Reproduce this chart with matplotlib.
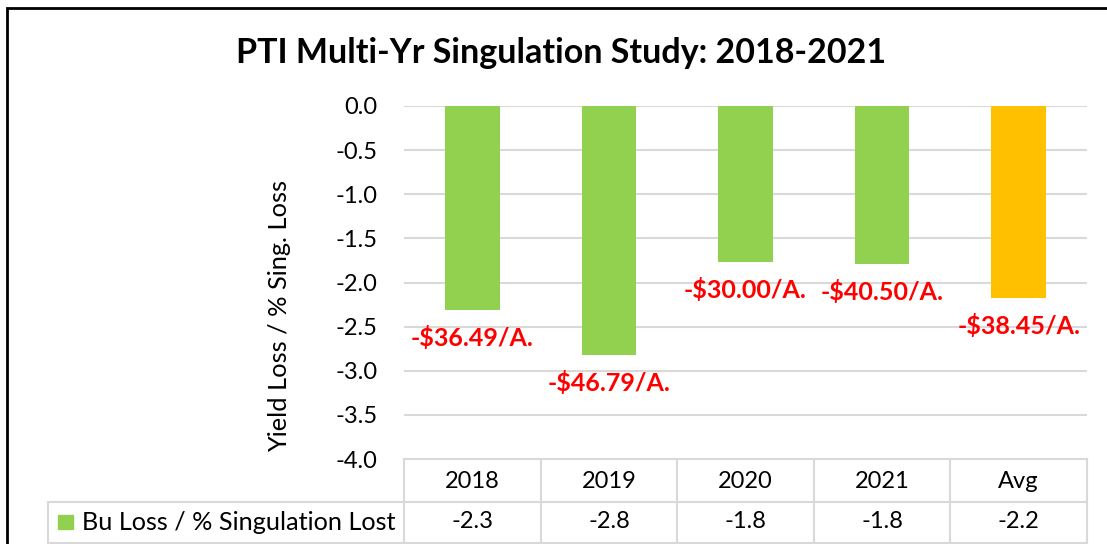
import matplotlib
matplotlib.use("Agg")
import matplotlib.pyplot as plt
from matplotlib.patches import Rectangle
from matplotlib.lines import Line2D

categories = ["2018", "2019", "2020", "2021", "Avg"]
values = [-2.31, -2.82, -1.77, -1.79, -2.18]
dollar_labels = ["-$36.49/A.", "-$46.79/A.", "-$30.00/A.", "-$40.50/A.", "-$38.45/A."]
bar_colors = ["#92D050", "#92D050", "#92D050", "#92D050", "#FFC000"]
yticks = [0.0, -0.5, -1.0, -1.5, -2.0, -2.5, -3.0, -3.5, -4.0]
series_name = "Bu Loss / % Singulation Lost"
title = "PTI Multi-Yr Singulation Study: 2018-2021"
ylabel = "Yield Loss / % Sing. Loss"

plt.rcParams["font.family"] = ["Lato", "DejaVu Sans"]

W, H = 1107, 544
fig = plt.figure(figsize=(W / 100, H / 100), dpi=100)

def fx(px):
    return px / W

def fy(py):
    return 1 - py / H

# outer border
fig.add_artist(Rectangle((fx(7), fy(560)), fx(1120) - fx(7), fy(8) - fy(560),
                         transform=fig.transFigure, fill=False, edgecolor="black", lw=2))

left, right, top, bottom = 404, 1087, 106, 459
ax = fig.add_axes([fx(left), fy(bottom), fx(right) - fx(left), fy(top) - fy(bottom)])
x = list(range(len(categories)))
ax.bar(x, values, width=0.4, color=bar_colors, zorder=3)
ax.set_xlim(-0.5, len(categories) - 0.5)
ax.set_ylim(-4.0, 0.0)
ax.set_yticks(yticks)
ax.set_yticklabels([f"{v:.1f}" for v in yticks], fontsize=17)
ax.set_xticks([])
ax.tick_params(axis="y", length=0, pad=19)
for s in ax.spines.values():
    s.set_visible(False)
for v in yticks[:-1]:
    ax.axhline(v, color="#D9D9D9", lw=1.5, zorder=1)

for xi, v, lab in zip(x, values, dollar_labels):
    ax.annotate(lab, (xi, v), xytext=(0, -20), textcoords="offset points",
                ha="center", va="center", color="#FF0000", fontsize=18, fontweight="bold")

fig.text(fx(561), fy(53), title, ha="center", va="center", fontsize=24.5, fontweight="bold")
fig.text(fx(280), fy(316), ylabel, ha="center", va="center", rotation=90, fontsize=18.3)

# data table
grid_c = "#D9D9D9"
row1_top, row2_top, tbl_bot = 459, 502, 543
col_w = (right - left) / len(categories)
lines = [
    ((left, right), (row1_top, row1_top)),
    ((48, right), (row2_top, row2_top)),
    ((48, right), (tbl_bot, tbl_bot)),
    ((48, 48), (row2_top, tbl_bot)),
]
for k in range(len(categories) + 1):
    xx = left + k * col_w
    lines.append(((xx, xx), (row1_top, tbl_bot)))
for (xs, ys) in lines:
    fig.add_artist(Line2D([fx(xs[0]), fx(xs[1])], [fy(ys[0]), fy(ys[1])],
                          transform=fig.transFigure, color=grid_c, lw=1.5))

for k, (cat, v) in enumerate(zip(categories, values)):
    cx = left + (k + 0.5) * col_w
    fig.text(fx(cx), fy(481), cat, ha="center", va="center", fontsize=17)
    fig.text(fx(cx), fy(522), f"{v:.1f}", ha="center", va="center", fontsize=17)

fig.add_artist(Rectangle((fx(58), fy(529)), fx(73) - fx(58), fy(515) - fy(529),
                         transform=fig.transFigure, color="#92D050"))
fig.text(fx(82), fy(522), series_name, ha="left", va="center", fontsize=18.2)

fig.savefig("out.png", dpi=100)
